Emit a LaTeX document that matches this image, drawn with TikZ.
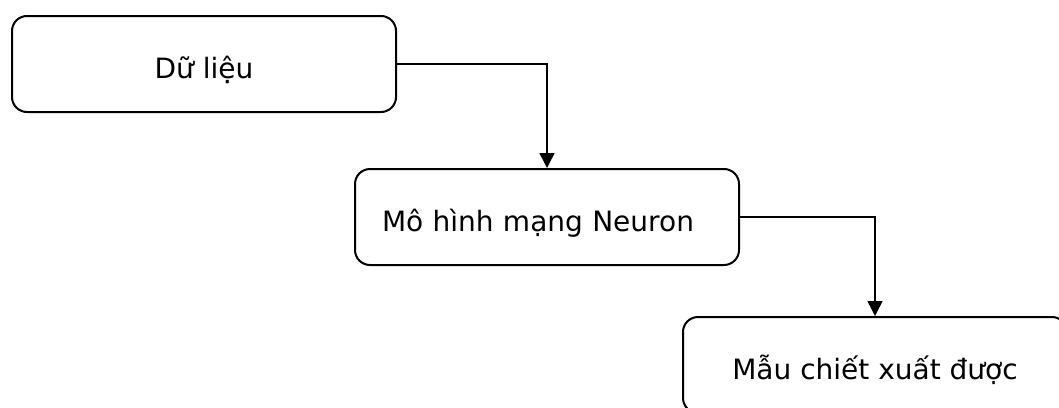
\documentclass[tikz,border=0pt]{standalone}
\usepackage{fontspec}
\setmainfont{DejaVu Sans}
\usetikzlibrary{arrows.meta}
\begin{document}
\begin{tikzpicture}[x=1pt,y=-1pt,
  stage/.style={draw=black, line width=2pt, rounded corners=15pt,
    minimum width=384pt, minimum height=96pt, inner sep=0pt,
    text height=34pt, text depth=6pt,
    font=\fontsize{28}{32}\selectfont},
  flow/.style={draw=black, line width=1.5pt,
    -{Triangle[length=15pt,width=15pt]}}
]
\useasboundingbox[clip] (0,0) rectangle (1059,407);
\fill[white] (0,0) rectangle (1059,407);

\node[stage] (data) at (204,64) {Dữ liệu};
\node[stage, text width=330pt, inner xsep=27pt, align=left] (model) at (547,217) {Mô hình mạng Neuron};
\node[stage] (result) at (875,365) {Mẫu chiết xuất được};

\draw[flow] (data.east) -| (model.north);
\draw[flow] (model.east) -| (result.north);
\end{tikzpicture}
\end{document}
